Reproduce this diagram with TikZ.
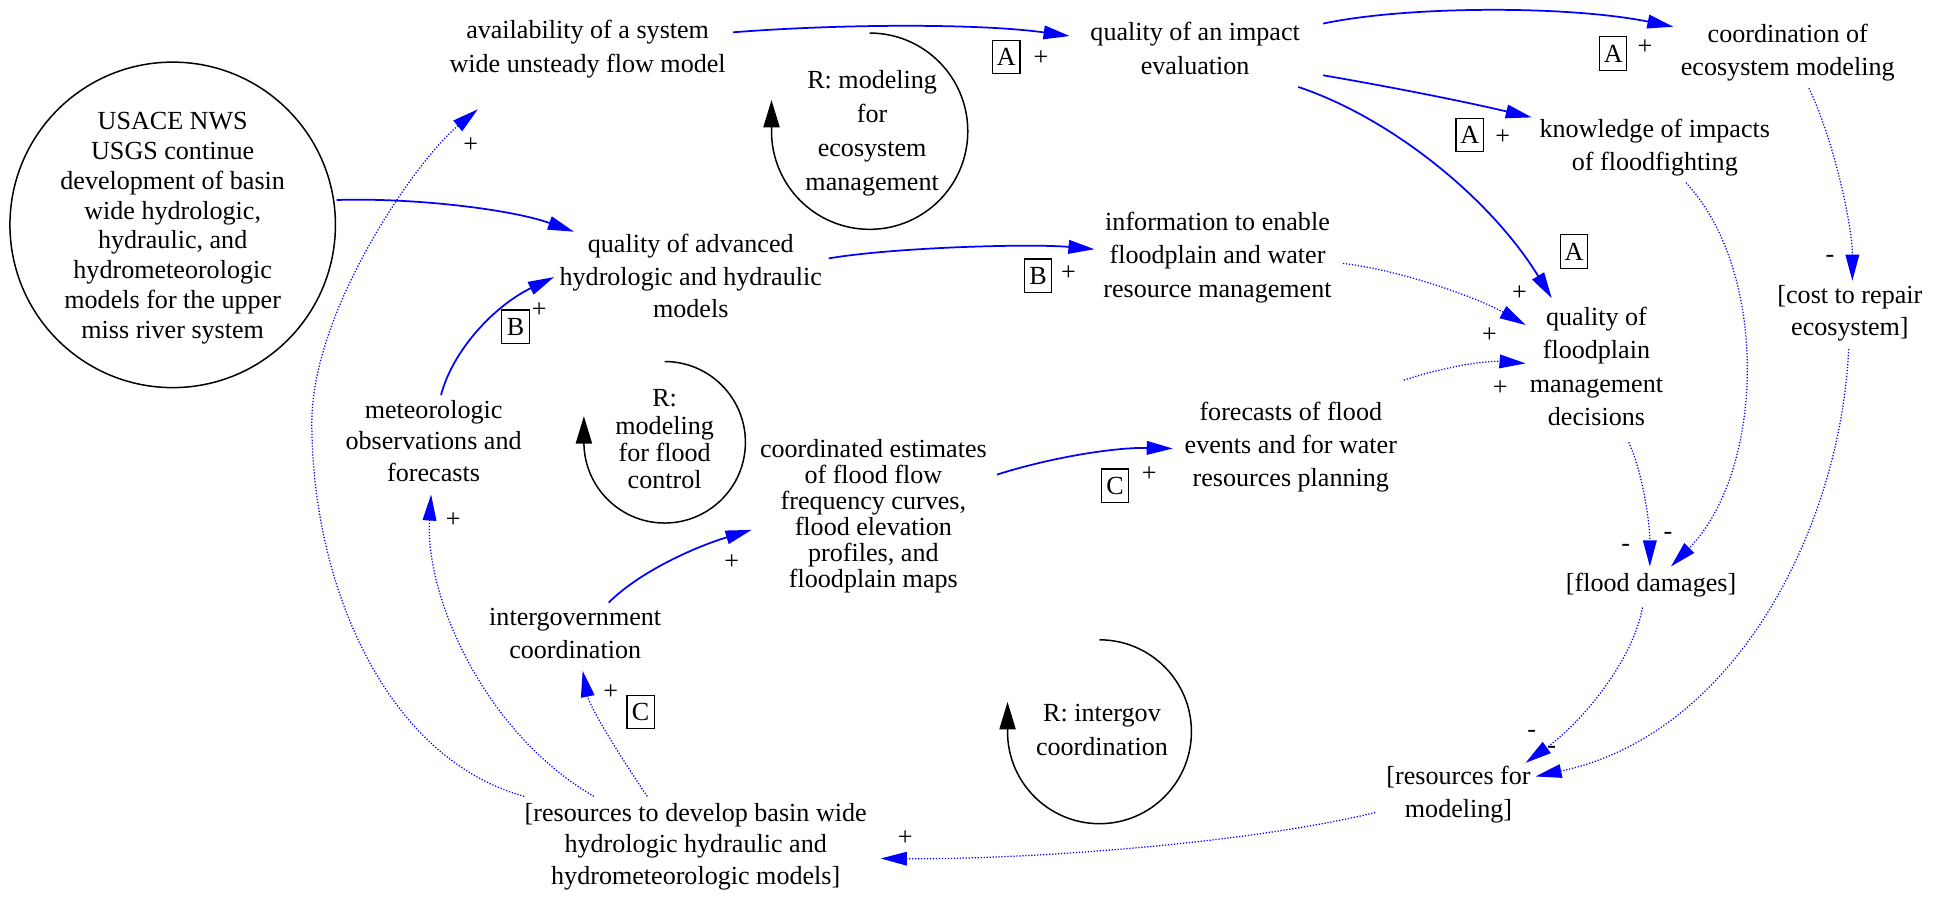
\documentclass[tikz,border=0pt]{standalone}
\usepackage{fontspec}
\setmainfont{Liberation Serif}
\usetikzlibrary{arrows.meta,calc}
\begin{document}
\begin{tikzpicture}[x=1pt,y=-1pt,
  lbl/.style={align=center,inner sep=0pt,font=\fontsize{21}{#1}\selectfont,execute at begin node=\strut,execute at end node=\strut},
  lbl/.default=27,
  sol/.style={blue,line width=1.4pt,-{Triangle[length=21pt,width=11pt]}},
  dot/.style={blue,line width=1pt,dash pattern=on 1pt off 1.4pt,-{Triangle[length=21pt,width=11pt]}},
  loopl/.style={black,line width=1.2pt,-{Triangle[length=22pt,width=13pt]}},
  sign/.style={inner sep=0pt,font=\fontsize{21}{21}\selectfont},
  tag/.style={draw,line width=0.9pt,inner sep=0pt,minimum width=22pt,minimum height=27pt,font=\fontsize{21}{21}\selectfont}]
\useasboundingbox (0,0) rectangle (1568,723);

% nodes
\node[circle,draw,line width=1.2pt,minimum size=262pt,inner sep=0pt] (usace) at (139,181) {};
\node[lbl=24] (usacet) at (139,185) {USACE NWS\\USGS continue\\development of basin\\wide hydrologic,\\hydraulic, and\\hydrometeorologic\\models for the upper\\miss river system};
\node[lbl] (avail) at (473,41.5) {availability of a system\\wide unsteady flow model};
\node[lbl] (impact) at (962,43) {quality of an impact\\evaluation};
\node[lbl] (coord) at (1439,44) {coordination of\\ecosystem modeling};
\node[lbl] (know) at (1332,120.5) {knowledge of impacts\\of floodfighting};
\node[lbl=26] (adv) at (556,226) {quality of advanced\\hydrologic and hydraulic\\models};
\node[lbl] (info) at (980,209) {information to enable\\floodplain and water\\resource management};
\node[lbl] (qfd) at (1285,299) {quality of\\floodplain\\management\\decisions};
\node[lbl=26] (cost) at (1489,254) {[cost to repair\\ecosystem]};
\node[lbl=26.5] (fore) at (1039,361.5) {forecasts of flood\\events and for water\\resources planning};
\node[lbl=21] (coordest) at (703,416.5) {coordinated estimates\\of flood flow\\frequency curves,\\flood elevation\\profiles, and\\floodplain maps};
\node[lbl=25.5] (meteo) at (349,358.5) {meteorologic\\observations and\\forecasts};
\node[lbl=26.5] (intergov) at (463,514) {intergovernment\\coordination};
\node[lbl=25.3] (resdev) at (560,683) {[resources to develop basin wide\\hydrologic hydraulic and\\hydrometeorologic models]};
\node[lbl] (damages) at (1329,471) {[flood damages]};
\node[lbl] (resmod) at (1174,641.5) {[resources for\\modeling]};

% loops
\node[lbl=27.3] (loopeco) at (702,109) {R: modeling\\for\\ecosystem\\management};
\node[lbl=22] (loopflood) at (535,357) {R:\\modeling\\for flood\\control};
\node[lbl] (loopgov) at (887,591.5) {R: intergov\\coordination};
\draw[loopl] (700,26.6) arc[start angle=270,end angle=540,radius=79] -- (621,80.5);
\draw[loopl] (535,291) arc[start angle=270,end angle=540,radius=65] -- (470,335);
\draw[loopl] (885,515) arc[start angle=270,end angle=540,radius=74] -- (811,565);

% edges
\draw[sol] ($(avail)+(117,-15.5)$) .. controls (680,19) and (790,19) .. ($(impact)+(-101,-14)$);
\draw[sol] ($(impact)+(103,-24)$) .. controls (1130,5) and (1260,4) .. ($(coord)+(-92,-22.5)$);
\draw[sol] ($(impact)+(103,17.6)$) .. controls (1120,70) and (1180,82) .. ($(know)+(-99,-26)$);
\draw[sol] ($(impact)+(83,27)$) .. controls (1120,95) and (1200,160) .. ($(qfd)+(-36,-59)$);
\draw[sol] ($(usace)+(132,-20)$) .. controls (330,159) and (410,168) .. ($(adv)+(-94,-39.5)$);
\draw[sol] ($(meteo)+(6,-40.5)$) .. controls (365,280) and (400,245) .. ($(adv)+(-110,-3)$);
\draw[sol] ($(adv)+(111,-18)$) .. controls (720,199) and (830,196) .. ($(info)+(-99,-8.4)$);
\draw[dot] ($(info)+(101,3)$) .. controls (1130,218) and (1190,240) .. ($(qfd)+(-57,-37.4)$);
\draw[dot] ($(fore)+(91,-55.5)$) .. controls (1160,296) and (1195,290) .. ($(qfd)+(-57,-6.5)$);
\draw[sol] ($(coordest)+(99.5,-34.5)$) .. controls (850,367) and (900,360) .. ($(fore)+(-95,-0.5)$);
\draw[sol] ($(intergov)+(27,-29)$) .. controls (515,460) and (560,440) .. ($(coordest)+(-98,10)$);
\draw[dot] ($(resdev)+(-138,-42)$) .. controls (310,610) and (251,470) .. (251,340) .. controls (251,250) and (335,129) .. ($(avail)+(-88.4,46.5)$);
\draw[dot] ($(resdev)+(-82,-42)$) .. controls (390,590) and (342,480) .. ($(meteo)+(-2,39.5)$);
\draw[dot] ($(resdev)+(-39,-42)$) .. controls (500,610) and (475,570) .. ($(intergov)+(6,26)$);
\draw[dot] ($(resmod)+(-67,12.5)$) .. controls (1000,680) and (820,692) .. ($(resdev)+(149,8)$);
\draw[dot] ($(qfd)+(26,57)$) .. controls (1322,380) and (1328,420) .. ($(damages)+(-1,-15)$);
\draw[dot] ($(know)+(25,26.5)$) .. controls (1425,220) and (1420,380) .. ($(damages)+(16,-15)$);
\draw[dot] ($(coord)+(17,27)$) .. controls (1475,110) and (1491,180) .. ($(cost)+(2,-28)$);
\draw[dot] ($(cost)+(-1,27)$) .. controls (1482,420) and (1400,590) .. ($(resmod)+(62,-16.5)$);
\draw[dot] ($(damages)+(-7,18)$) .. controls (1315,530) and (1275,580) .. ($(resmod)+(54,-27.5)$);

% labels
\node[tag] (tA1) at (810,46) {A}; \node[sign] (pA1) at (838,47) {+};
\node[tag] (tA2) at (1298.5,43) {A}; \node[sign] (pA2) at (1324,37.6) {+};
\node[tag] (tA3) at (1183,108.7) {A}; \node[sign] (pA3) at (1209.5,110.5) {+};
\node[tag] (tA4) at (1267,202.6) {A}; \node[sign] (pA4) at (1223,235.6) {+};
\node[sign] (p8) at (1199,269.7) {+};
\node[sign] (p9) at (1207.6,312.6) {+};
\node[tag] (tB1) at (415,263) {B}; \node[sign] (pB1) at (434,249.6) {+};
\node[tag] (tB2) at (835.6,222) {B}; \node[sign] (pB2) at (860,220) {+};
\node[tag] (tC1) at (897.6,391) {C}; \node[sign] (pC1) at (925,382) {+};
\node[sign] (p11) at (589,452.6) {+};
\node[sign] (p12) at (379,117) {+};
\node[sign] (p13) at (364.8,418.6) {+};
\node[sign] (p14) at (491.6,557) {+};
\node[tag] (tC2) at (515.7,573) {C};
\node[sign] (p15) at (728.6,674.6) {+};
\node[sign] (m16) at (1308.6,440.7) {-};
\node[sign] (m17) at (1342.5,431) {-};
\node[sign] (m18) at (1473,208.6) {-};
\node[sign] (m20) at (1233,591) {-};
\node[sign] (m19) at (1249,604) {-};
\end{tikzpicture}
\end{document}
